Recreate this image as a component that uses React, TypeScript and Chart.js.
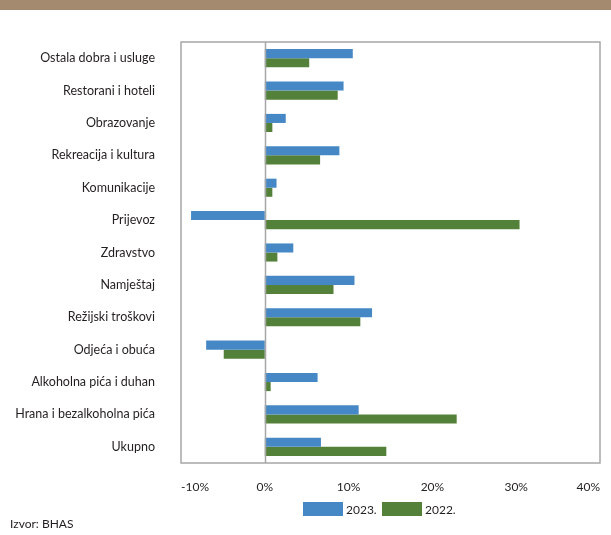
import React, { useEffect, useRef } from "react";
import { Chart, registerables } from "chart.js";

Chart.register(...registerables);

const categories = [
  "Ostala dobra i usluge",
  "Restorani i hoteli",
  "Obrazovanje",
  "Rekreacija i kultura",
  "Komunikacije",
  "Prijevoz",
  "Zdravstvo",
  "Namještaj",
  "Režijski troškovi",
  "Odjeća i obuća",
  "Alkoholna pića i duhan",
  "Hrana i bezalkoholna pića",
  "Ukupno",
];

const values2023 = [10.5, 9.4, 2.5, 8.9, 1.4, -8.8, 3.4, 10.7, 12.8, -7.0, 6.3, 11.2, 6.7];
const values2022 = [5.3, 8.7, 0.9, 6.6, 0.9, 30.4, 1.5, 8.2, 11.4, -4.9, 0.7, 22.9, 14.5];

const seriesLabels = ["2023.", "2022."];
const seriesColors = ["#4688C6", "#548139"];

const xMin = -10;
const xMax = 40;
const xStep = 10;
const sourceText = "Izvor: BHAS";

const FONT = "Lato, 'Open Sans', sans-serif";

const framePlugin = {
  id: "frame",
  afterDatasetsDraw(chart: any) {
    const { ctx, chartArea } = chart;
    const xs = chart.scales.x;
    ctx.save();
    ctx.strokeStyle = "#A6A6A6";
    ctx.lineWidth = 1.5;
    const zx = Math.round(xs.getPixelForValue(0)) + 0.5;
    ctx.beginPath();
    ctx.moveTo(zx, chartArea.top);
    ctx.lineTo(zx, chartArea.bottom);
    ctx.stroke();
    ctx.strokeRect(chartArea.left, chartArea.top, chartArea.right - chartArea.left, chartArea.bottom - chartArea.top);
    ctx.restore();
  },
  afterDraw(chart: any) {
    const { ctx } = chart;
    ctx.save();
    ctx.font = `12px ${FONT}`;
    ctx.textBaseline = "middle";
    ctx.fillStyle = "#231F20";
    const legendY = 509;
    let x = 303;
    chart.data.datasets.forEach((ds: any) => {
      ctx.fillStyle = ds.backgroundColor;
      ctx.fillRect(x, legendY - 7, 40, 14);
      ctx.fillStyle = "#231F20";
      ctx.textAlign = "left";
      ctx.fillText(ds.label, x + 43, legendY + 1);
      x += 79;
    });
    ctx.textBaseline = "alphabetic";
    ctx.fillText(sourceText, 10, 528);
    ctx.restore();
  },
};

export default function App() {
  const canvasRef = useRef<HTMLCanvasElement>(null);

  useEffect(() => {
    const canvas = canvasRef.current;
    if (!canvas) return;
    const chart = new Chart(canvas, {
      type: "bar",
      data: {
        labels: categories,
        datasets: [
          {
            label: seriesLabels[0],
            data: values2023,
            backgroundColor: seriesColors[0],
            categoryPercentage: 0.56,
            barPercentage: 1,
          },
          {
            label: seriesLabels[1],
            data: values2022,
            backgroundColor: seriesColors[1],
            categoryPercentage: 0.56,
            barPercentage: 1,
          },
        ],
      },
      options: {
        indexAxis: "y",
        animation: false,
        responsive: false,
        maintainAspectRatio: false,
        layout: { padding: { top: 42, right: 11, left: 8, bottom: 42 } },
        plugins: {
          legend: { display: false },
          tooltip: { enabled: false },
        },
        scales: {
          x: {
            min: xMin,
            max: xMax,
            grid: { display: false, drawTicks: false },
            border: { display: false },
            ticks: {
              stepSize: xStep,
              padding: 17,
              align: "inner",
              color: "#231F20",
              font: { family: FONT, size: 12 },
              callback: (v: any) => `${v}%`,
            },
            afterFit: (scale: any) => {
              scale.height = 30;
              scale.paddingLeft = 0;
              scale.paddingRight = 0;
            },
          },
          y: {
            grid: { display: false, drawTicks: false },
            border: { display: false },
            ticks: {
              padding: 26,
              color: "#231F20",
              font: { family: FONT, size: 12.5 },
            },
            afterFit: (scale: any) => {
              scale.width = 173;
              scale.paddingTop = 0;
              scale.paddingBottom = 0;
            },
          },
        },
      },
      plugins: [framePlugin],
    } as any);
    return () => chart.destroy();
  }, []);

  return (
    <div style={{ position: "fixed", left: 0, top: 0, width: 611, height: 535, background: "#fff" }}>
      <div style={{ position: "absolute", left: 0, top: 0, width: 611, height: 10, background: "#A48B6F" }} />
      <canvas ref={canvasRef} width={611} height={535} style={{ position: "absolute", left: 0, top: 0 }} />
    </div>
  );
}
